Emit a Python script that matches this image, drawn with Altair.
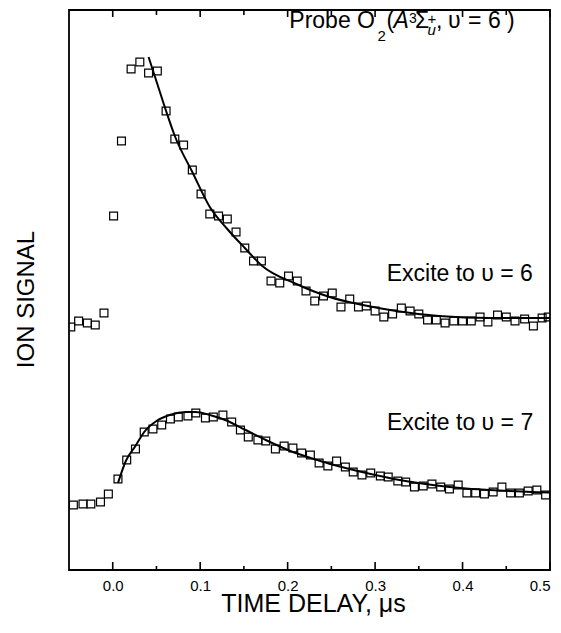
import altair as alt
import pandas as pd

# ---- data (signal in arbitrary units) ----
t_v6 = [-0.048, -0.039, -0.029, -0.020, -0.010, 0.001, 0.010, 0.021, 0.031, 0.041,
        0.051, 0.061, 0.071, 0.081, 0.091, 0.101, 0.111, 0.121, 0.131, 0.141,
        0.151, 0.161, 0.170, 0.181, 0.191, 0.201, 0.211, 0.221, 0.231, 0.241,
        0.251, 0.261, 0.271, 0.281, 0.290, 0.300, 0.310, 0.320, 0.330, 0.340,
        0.350, 0.360, 0.370, 0.380, 0.390, 0.400, 0.410, 0.420, 0.429, 0.440,
        0.450, 0.460, 0.471, 0.481, 0.491, 0.498]
s_v6 = [243, 249, 247, 245, 257, 354, 429, 501, 508, 497,
        499, 459, 431, 425, 400, 376, 356, 354, 351, 338,
        322, 309, 309, 289, 287, 294, 289, 279, 269, 274,
        277, 263, 271, 263, 264, 259, 253, 256, 262, 259,
        256, 250, 250, 247, 249, 249, 249, 253, 248, 255,
        253, 249, 251, 244, 252, 253]

t_v7 = [-0.045, -0.034, -0.025, -0.014, -0.005, 0.006, 0.016, 0.026, 0.036, 0.046,
        0.056, 0.066, 0.075, 0.086, 0.095, 0.106, 0.115, 0.126, 0.136, 0.146,
        0.155, 0.166, 0.175, 0.186, 0.196, 0.206, 0.216, 0.226, 0.236, 0.246,
        0.256, 0.266, 0.275, 0.285, 0.295, 0.306, 0.315, 0.326, 0.335, 0.345,
        0.355, 0.365, 0.375, 0.385, 0.395, 0.405, 0.415, 0.425, 0.435, 0.445,
        0.455, 0.465, 0.475, 0.485, 0.495]
s_v7 = [65, 66, 66, 68, 76, 91, 110, 121, 138, 141,
        145, 151, 153, 154, 157, 152, 153, 155, 148, 140,
        133, 130, 129, 121, 124, 122, 117, 115, 107, 104,
        109, 103, 98, 95, 97, 94, 93, 89, 88, 83,
        84, 86, 83, 81, 85, 77, 77, 76, 78, 83,
        77, 77, 79, 80, 75]

fit6_t = [0.041, 0.051, 0.061, 0.071, 0.091, 0.111, 0.131, 0.151, 0.171, 0.210,
          0.248, 0.286, 0.324, 0.373, 0.431, 0.500]
fit6_s = [513, 486, 459, 434, 398, 363, 341, 322, 304, 286,
          273, 265, 259, 254, 252, 252]

fit7_t = [0.006, 0.015, 0.026, 0.036, 0.050, 0.065, 0.084, 0.095, 0.111, 0.130,
          0.152, 0.175, 0.206, 0.234, 0.251, 0.290, 0.328, 0.366, 0.404, 0.442, 0.500]
fit7_s = [87, 109, 124, 138, 149, 155, 158, 158, 155, 149.5,
          140, 130, 118, 110, 105.5, 97, 90, 85, 81.5, 79.5, 77.5]

x_major = [0.0, 0.1, 0.2, 0.3, 0.4, 0.5]
x_minor = [0.05, 0.15, 0.25, 0.35, 0.45]

FONT = "Liberation Sans"
W, H = 481, 560

df6 = pd.DataFrame({"t": t_v6, "s": s_v6})
df7 = pd.DataFrame({"t": t_v7, "s": s_v7})
dfit6 = pd.DataFrame({"t": fit6_t, "s": fit6_s})
dfit7 = pd.DataFrame({"t": fit7_t, "s": fit7_s})
dmaj = pd.DataFrame({"t": x_major})
dmin = pd.DataFrame({"t": x_minor})

xscale = alt.Scale(domain=[-0.05, 0.5], nice=False, zero=False)
yscale = alt.Scale(domain=[0, 560], nice=False, zero=False)

x_axis = alt.Axis(values=x_major, format=".1f", ticks=False, domain=False, grid=False,
                  labelFont=FONT, labelFontSize=15, labelColor="black", labelPadding=8,
                  title="TIME DELAY, μs", titleFont=FONT, titleFontSize=25,
                  titleFontWeight="normal", titleColor="black",
                  titleBaseline="alphabetic", titleAlign="center",
                  titleX=244, titleY=41)

y_axis = alt.Axis(title="ION SIGNAL", labels=False, ticks=False, domain=False, grid=False,
                  titleFont=FONT, titleFontSize=24, titleFontWeight="normal",
                  titleColor="black", titleAngle=270, titleX=-36, titleY=289,
                  titleAlign="center", titleBaseline="alphabetic")

X_AX = alt.X("t:Q", scale=xscale, axis=x_axis)
Y_AX = alt.Y("s:Q", scale=yscale, axis=y_axis)
X_NO = alt.X("t:Q", scale=xscale, axis=None)
Y_NO = alt.Y("s:Q", scale=yscale, axis=None)


def points(df, with_axes=False):
    return alt.Chart(df).mark_point(shape="square", filled=False, size=62, strokeWidth=1.2,
                                    color="black", opacity=1, clip=True).encode(
        x=X_AX if with_axes else X_NO, y=Y_AX if with_axes else Y_NO)


def fitline(df):
    return alt.Chart(df).mark_line(color="black", strokeWidth=2, interpolate="monotone",
                                   clip=True).encode(x=X_NO, y=Y_NO)


def ticks(df, y0, y1):
    return alt.Chart(df).mark_rule(color="black", strokeWidth=1.6).encode(
        x=X_NO, y=alt.value(y0), y2=alt.value(y1))


tick_layers = [
    ticks(dmaj, H, H - 8), ticks(dmin, H, H - 4),
    ticks(dmaj, 0, 7), ticks(dmin, 0, 5),
]


def piece(text, x, y, size, italic=False):
    return alt.Chart(pd.DataFrame({"label": [text]})).mark_text(
        align="left", baseline="alphabetic", font=FONT, fontSize=size,
        fontStyle="italic" if italic else "normal", color="black").encode(
        x=alt.value(x), y=alt.value(y), text="label:N")


texts = [
    piece("Probe O", 220.3, 18.3, 23),
    piece("2", 308.5, 30.5, 15),
    piece("(", 317.5, 18.3, 23),
    piece("A", 324.5, 18.3, 23, italic=True),
    piece("3", 340, 12.7, 14),
    piece("Σ", 346, 18.3, 23),
    piece("u", 358.5, 25, 15, italic=True),
    piece("+", 358.5, 13.7, 15),
    piece(",", 367, 18.3, 23),
    piece("υ", 379, 18.3, 23),
    piece("=", 399, 18.3, 23),
    piece("6", 419, 18.3, 23),
    piece(")", 438, 18.3, 23),
    piece("Excite to υ = 6", 317.7, 271.2, 23),
    piece("Excite to υ = 7", 318, 420, 23),
]

chart = alt.layer(points(df6, True), points(df7), fitline(dfit6), fitline(dfit7),
                  *tick_layers, *texts).resolve_axis(x="independent", y="independent").properties(
    width=W, height=H,
    autosize=alt.AutoSizeParams(type="none"),
    padding={"left": 61, "top": 2, "right": 2, "bottom": 52},
).configure_view(stroke="black", strokeWidth=1.8, fill="white")

chart.save("out.html", embed_options={"renderer": "svg", "actions": False})
